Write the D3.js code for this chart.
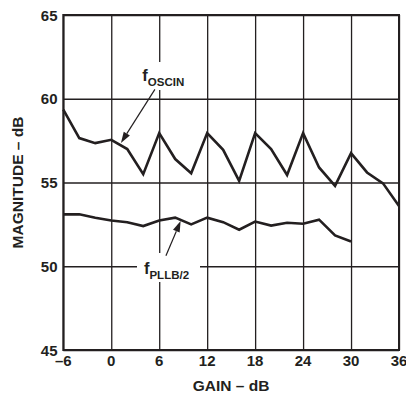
<!DOCTYPE html>
<html>
<head>
<meta charset="utf-8">
<script src="https://cdn.jsdelivr.net/npm/d3@7"></script>
<style>
  body { margin: 0; background: #fff; }
  text { font-family: "Liberation Sans", Arial, sans-serif; font-weight: bold; fill: #231f20; }
</style>
</head>
<body>
<div class="chart"></div>
<script>
// Data (gain in dB, magnitude in dB)
const gain = [-6, -4, -2, 0, 2, 4, 6, 8, 10, 12, 14, 16, 18, 20, 22, 24, 26, 28, 30, 32, 34, 36];
const oscin = [59.35, 57.65, 57.35, 57.55, 57.0, 55.5, 57.95, 56.4, 55.55, 57.95, 56.95, 55.1,
  57.95, 57.0, 55.45, 57.95, 55.9, 54.8, 56.75, 55.6, 54.95, 53.6];
const pllb = [53.1, 53.1, 52.9, 52.73, 52.63, 52.4, 52.73, 52.9, 52.5, 52.9, 52.63, 52.18,
  52.67, 52.43, 52.6, 52.54, 52.78, 51.84, 51.48];
const xTicks = [-6, 0, 6, 12, 18, 24, 30, 36];
const yTicks = [45, 50, 55, 60, 65];

// Set dimensions
const width = 406, height = 396;
const ink = "#231f20";

const svg = d3.select(".chart")
  .append("svg")
  .attr("width", width)
  .attr("height", height);

// Scales
const x = d3.scaleLinear().domain([-6, 36]).range([63.3, 399]);
const y = d3.scaleLinear().domain([45, 65]).range([350, 15]);

// Grid lines
svg.append("g")
  .attr("transform", `translate(0,${y(45)})`)
  .call(d3.axisBottom(x).tickValues(xTicks).tickSize(-(y(45) - y(65))).tickFormat(""))
  .call(g => g.select(".domain").remove())
  .call(g => g.selectAll("line").attr("stroke", ink).attr("stroke-width", 1.3));

svg.append("g")
  .attr("transform", `translate(${x(-6)},0)`)
  .call(d3.axisLeft(y).tickValues(yTicks).tickSize(-(x(36) - x(-6))).tickFormat(""))
  .call(g => g.select(".domain").remove())
  .call(g => g.selectAll("line").attr("stroke", ink).attr("stroke-width", 1.3));

// Tick labels
svg.append("g")
  .selectAll("text")
  .data(xTicks)
  .join("text")
  .attr("x", d => x(d))
  .attr("y", 366)
  .attr("text-anchor", "middle")
  .attr("font-size", 15)
  .text(d => d < 0 ? "\u2013" + Math.abs(d) : d);

svg.append("g")
  .selectAll("text")
  .data(yTicks)
  .join("text")
  .attr("x", 57.5)
  .attr("y", d => y(d) + 5.5)
  .attr("text-anchor", "end")
  .attr("font-size", 15)
  .text(d => d);

// Axis titles
svg.append("text")
  .attr("x", (x(-6) + x(36)) / 2)
  .attr("y", 391)
  .attr("text-anchor", "middle")
  .attr("font-size", 15.5)
  .text("GAIN \u2013 dB");

svg.append("text")
  .attr("transform", `translate(23.3,${(y(45) + y(65)) / 2}) rotate(-90)`)
  .attr("text-anchor", "middle")
  .attr("font-size", 15.5)
  .text("MAGNITUDE \u2013 dB");

// Label backgrounds (break the grid)
svg.append("rect").attr("x", 140).attr("y", 62).attr("width", 53).attr("height", 28).attr("fill", "#fff");
svg.append("rect").attr("x", 137).attr("y", 253).attr("width", 63).attr("height", 29).attr("fill", "#fff");

// Frame
svg.append("rect")
  .attr("x", x(-6))
  .attr("y", y(65))
  .attr("width", x(36) - x(-6))
  .attr("height", y(45) - y(65))
  .attr("fill", "none")
  .attr("stroke", ink)
  .attr("stroke-width", 2);

// Lines
const line = d3.line()
  .x((d, i) => x(gain[i]))
  .y(d => y(d));

svg.append("path")
  .datum(oscin)
  .attr("fill", "none")
  .attr("stroke", ink)
  .attr("stroke-width", 2.6)
  .attr("stroke-linejoin", "miter")
  .attr("d", line);

svg.append("path")
  .datum(pllb)
  .attr("fill", "none")
  .attr("stroke", ink)
  .attr("stroke-width", 2.6)
  .attr("d", line);

// Annotation arrows (in data units)
function arrow(from, to) {
  const x1 = x(from[0]), y1 = y(from[1]), x2 = x(to[0]), y2 = y(to[1]);
  const a = Math.atan2(y2 - y1, x2 - x1);
  const len = 11, half = 3.6;
  const bx = x2 - len * Math.cos(a), by = y2 - len * Math.sin(a);
  svg.append("line")
    .attr("x1", x1).attr("y1", y1).attr("x2", bx).attr("y2", by)
    .attr("stroke", ink).attr("stroke-width", 1.2);
  svg.append("path")
    .attr("d", `M${x2},${y2}L${bx - half * Math.sin(a)},${by + half * Math.cos(a)}L${bx + half * Math.sin(a)},${by - half * Math.cos(a)}Z`)
    .attr("fill", ink);
}
arrow([5.46, 60.56], [1.21, 57.36]);
arrow([6.84, 50.63], [8.68, 52.7]);

// Series labels
function label(px, py, sub) {
  const t = svg.append("text")
    .attr("x", x(px))
    .attr("y", y(py))
    .attr("font-size", 16.5);
  t.append("tspan").text("f");
  t.append("tspan")
    .attr("font-size", 11.5)
    .attr("dy", 5)
    .text(sub);
}
label(3.88, 61.08, "OSCIN");
label(4.09, 49.52, "PLLB/2");
</script>
</body>
</html>
